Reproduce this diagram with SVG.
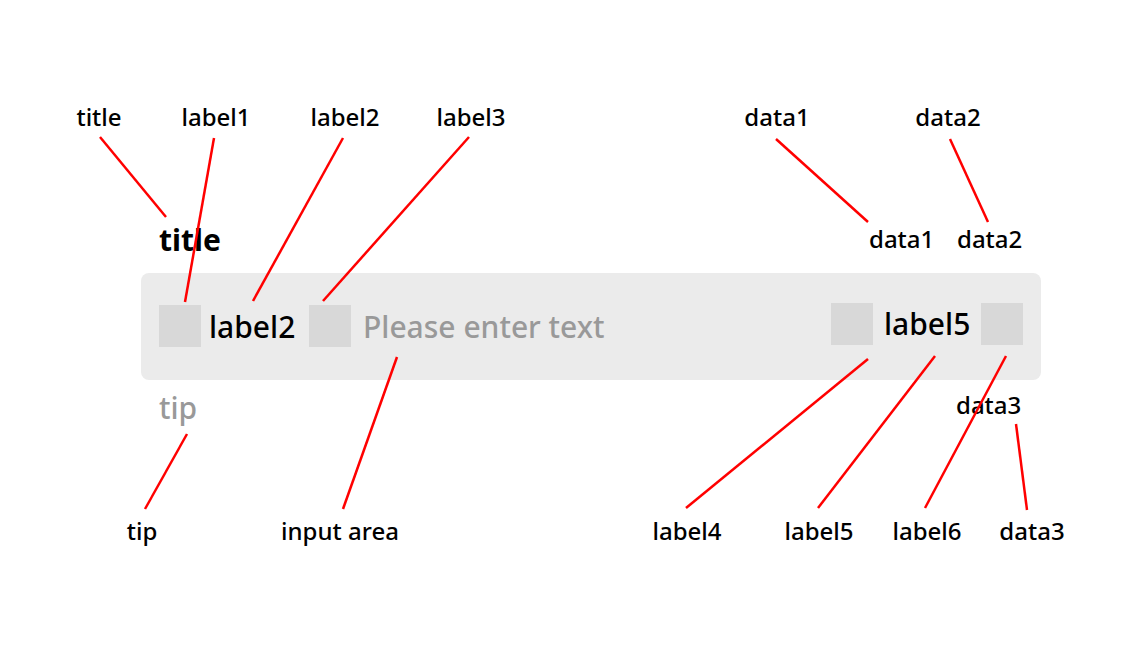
<svg xmlns="http://www.w3.org/2000/svg" width="1137" height="648" viewBox="0 0 1137 648">
<style>
text{font-family:"Noto Sans","Liberation Sans",sans-serif;font-weight:500;}
.ann{font-size:24px;fill:#000;text-anchor:middle;}
.big{font-size:30px;fill:#000;}
.grey{fill:#999;}
.sq{fill:#d8d8d8;}
.ln{stroke:#ff0000;stroke-width:2.5;fill:none;}
</style>
<rect width="1137" height="648" fill="#fff"/>
<g id="widget">
<rect x="141" y="273" width="900" height="107" rx="8" fill="#ebebeb"/>
<rect class="sq" x="159" y="305" width="42" height="42"/>
<rect class="sq" x="309" y="305" width="42" height="42"/>
<rect class="sq" x="831" y="303" width="42" height="42"/>
<rect class="sq" x="981" y="303" width="42" height="42"/>
<text class="big" x="159" y="251" font-size="29" style="font-weight:bold">title</text>
<text class="big" x="209" y="338">label2</text>
<text class="big grey" x="363" y="338">Please enter text</text>
<text class="big" x="884" y="335">label5</text>
<text class="big grey" x="159" y="419">tip</text>
<text x="869" y="248" font-size="24">data1</text>
<text x="957" y="248" font-size="24">data2</text>
<text x="956" y="414" font-size="24">data3</text>
</g>
<g id="annotations">
<text class="ann" x="99" y="126">title</text>
<text class="ann" x="216" y="126">label1</text>
<text class="ann" x="345" y="126">label2</text>
<text class="ann" x="471" y="126">label3</text>
<text class="ann" x="777" y="126">data1</text>
<text class="ann" x="948" y="126">data2</text>
<text class="ann" x="142" y="540">tip</text>
<text class="ann" x="340" y="540">input area</text>
<text class="ann" x="687" y="540">label4</text>
<text class="ann" x="819" y="540">label5</text>
<text class="ann" x="927" y="540">label6</text>
<text class="ann" x="1032" y="540">data3</text>
</g>
<g id="connectors">
<line class="ln" x1="100" y1="137" x2="166" y2="217"/>
<line class="ln" x1="214" y1="138" x2="185" y2="302"/>
<line class="ln" x1="343" y1="138" x2="253" y2="301"/>
<line class="ln" x1="469" y1="137" x2="323" y2="301"/>
<line class="ln" x1="776" y1="139" x2="868" y2="222"/>
<line class="ln" x1="950" y1="139" x2="988" y2="222"/>
<line class="ln" x1="397" y1="357" x2="343" y2="509"/>
<line class="ln" x1="187" y1="434" x2="145" y2="509"/>
<line class="ln" x1="868" y1="359" x2="686" y2="508"/>
<line class="ln" x1="935" y1="356" x2="818" y2="508"/>
<line class="ln" x1="1006" y1="356" x2="925" y2="508"/>
<line class="ln" x1="1016" y1="424" x2="1027" y2="510"/>
</g>
</svg>
